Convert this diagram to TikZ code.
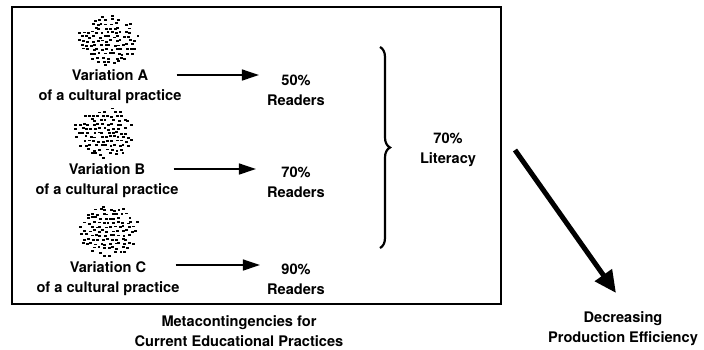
\documentclass[tikz,border=0pt]{standalone}
\usepackage{fontspec}
\setmainfont{TeX Gyre Heros}
\usetikzlibrary{arrows.meta}
\usetikzlibrary{decorations.pathreplacing}

\tikzset{
  lbl/.style={align=center,font=\fontsize{14.6}{20}\selectfont\bfseries,inner sep=1pt},
  flow/.style={line width=1.4pt,-{Triangle[length=17pt,width=11pt]}},
  bigflow/.style={line width=5pt,-{Triangle[length=22pt,width=20pt]}},
  blob/.style={circle,minimum size=54pt,inner sep=0pt}
}

% speckled blob made of small dashes on a jittered grid
\newcommand{\speckle}[1]{%
  \foreach \i in {-7,...,7}{
    \foreach \j in {-7,...,7}{
      \pgfmathsetmacro{\dx}{\i*4.7+mod(abs(\j),2)*2.3+1.5*rand-1.4}
      \pgfmathsetmacro{\dy}{\j*4.2+1.1*rand}
      \pgfmathsetmacro{\dd}{(\dx/30.5)^2+(\dy/26)^2}
      \pgfmathparse{(\dd<1 && rnd>0.55*\dd*\dd*\dd) ? 1 : 0}
      \ifnum\pgfmathresult=1
        \fill ([shift={(\dx,\dy)}]#1) rectangle ++(2.9,1.9);
      \fi
    }}}

\begin{document}
\begin{tikzpicture}[x=1pt,y=-1pt]
  \useasboundingbox (0,0) rectangle (704,349);
  \pgfmathsetseed{4242}

  \node [draw,line width=1.3pt,minimum width=489pt,minimum height=297pt,inner sep=0pt] (frame) at (256.5,155.5) {};

  % variations
  \node [blob] (blobA) at (107,40) {};
  \node [blob] (blobB) at (103,132) {};
  \node [blob] (blobC) at (108,230) {};
  \speckle{blobA}
  \speckle{blobB}
  \speckle{blobC}

  \node [lbl] (varA) at (110,87) {Variation A\\of a cultural practice};
  \node [lbl] (varB) at (107,181) {Variation B\\of a cultural practice};
  \node [lbl] (varC) at (108,279) {Variation C\\of a cultural practice};

  % outcomes
  \node [lbl] (readA) at (296,90) {50\%\\Readers};
  \node [lbl] (readB) at (296,182) {70\%\\Readers};
  \node [lbl] (readC) at (296,279) {90\%\\Readers};

  \draw [flow] ([xshift=-6pt,yshift=12pt]varA.east) -- ([xshift=-7pt,yshift=15pt]readA.west);
  \draw [flow] ([xshift=-6pt,yshift=12pt]varB.east) -- ([xshift=-10pt,yshift=13pt]readB.west);
  \draw [flow] ([xshift=-5pt,yshift=14pt]varC.east) -- ([xshift=-6pt,yshift=14pt]readC.west);

  % brace and total
  \coordinate (braceTop) at (380,47);
  \coordinate (braceBot) at (380,248);
  \draw [line width=2.2pt,decorate,decoration={brace,amplitude=10pt}] (braceTop) -- (braceBot);
  \node [lbl] (literacy) at (448,150) {70\%\\Literacy};

  \node [lbl] (caption) at (239,331) {Metacontingencies for\\Current Educational Practices};

  % efficiency
  \node [lbl] (decr) at (623,329) {Decreasing\\Production Efficiency};
  \coordinate (effStart) at (515,150);
  \coordinate (effEnd) at (616,293);
  \draw [bigflow] (effStart) -- (effEnd);

\end{tikzpicture}
\end{document}
